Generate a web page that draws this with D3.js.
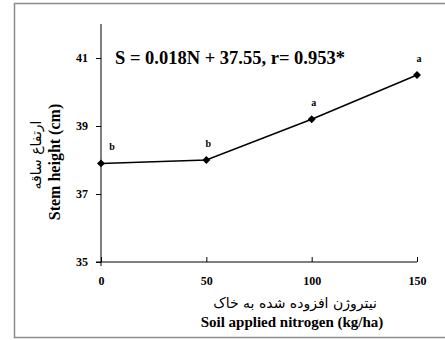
<!DOCTYPE html>
<html>
<head>
<meta charset="utf-8">
<script src="https://cdn.jsdelivr.net/npm/d3@7/dist/d3.min.js"></script>
<style>
  html, body { margin: 0; padding: 0; background: #fff; }
  svg { display: block; }
  .serif { font-family: "Times New Roman", "Liberation Serif", "DejaVu Serif", serif !important; }
  .fa { font-family: "DejaVu Sans", sans-serif; }
</style>
</head>
<body>
<svg id="chart" width="445" height="340"></svg>
<script>
// Nitrogen rate (kg/ha) and mean stem height (cm)
const nitrogen = [0, 50, 100, 150];
const stemHeight = [37.9, 38.0, 39.2, 40.5];
const groupLetters = ["b", "b", "a", "a"];
const yTicks = [35, 37, 39, 41];
const xTicks = [0, 50, 100, 150];
const equationText = "S = 0.018N + 37.55, r= 0.953*";
const xTitleFa = "نیتروژن افزوده شده به خاک";
const xTitleEn = "Soil applied nitrogen (kg/ha)";
const yTitleFa = "ارتفاع ساقه";
const yTitleEn = "Stem height (cm)";

const svg = d3.select("#chart");

// outer frame
svg.append("rect")
  .attr("x", 14.5).attr("y", 3.5)
  .attr("width", 445).attr("height", 334)
  .attr("fill", "none").attr("stroke", "#8c8c8c").attr("stroke-width", 1.5);

const x = d3.scaleLinear().domain([0, 150]).range([101, 417]);
const y = d3.scaleLinear().domain([35, 42]).range([262, 24]);

// y axis
const yAxis = svg.append("g")
  .attr("transform", `translate(${x(0)},0)`)
  .call(d3.axisLeft(y).tickValues(yTicks).tickSize(5).tickPadding(8).tickFormat(d3.format("d")));
yAxis.attr("font-family", null);
yAxis.select(".domain").attr("d", `M0,${y(42)}V${y(35) + 4}`).attr("stroke", "#000");
yAxis.selectAll("text").attr("class", "serif").attr("font-size", 12).attr("font-weight", "bold");

// x axis
const xAxis = svg.append("g")
  .attr("transform", `translate(0,${y(35)})`)
  .call(d3.axisBottom(x).tickValues(xTicks).tickSize(-5).tickPadding(14).tickFormat(d3.format("d")));
xAxis.attr("font-family", null);
xAxis.select(".domain").attr("d", `M${x(0) - 5},0H${x(150)}`).attr("stroke", "#000");
xAxis.selectAll("text").attr("class", "serif").attr("font-size", 12).attr("font-weight", "bold");

// data line
const line = d3.line().x((d, i) => x(nitrogen[i])).y(d => y(d));
svg.append("path")
  .datum(stemHeight)
  .attr("d", line)
  .attr("fill", "none").attr("stroke", "#000").attr("stroke-width", 1.5);

// diamond markers
svg.selectAll("path.marker")
  .data(stemHeight)
  .join("path")
  .attr("class", "marker")
  .attr("d", d3.symbol().type(d3.symbolDiamond2).size(40))
  .attr("transform", (d, i) => `translate(${x(nitrogen[i])},${y(d)})`)
  .attr("fill", "#000");

// mean-separation letters
svg.selectAll("text.letter")
  .data(stemHeight)
  .join("text")
  .attr("class", "letter serif")
  .attr("x", (d, i) => x(nitrogen[i]) + (i === 0 ? 11 : 2))
  .attr("y", d => y(d) - 13)
  .attr("text-anchor", "middle")
  .attr("font-size", 10).attr("font-weight", "bold")
  .text((d, i) => groupLetters[i]);

// regression equation
svg.append("text")
  .attr("class", "serif")
  .attr("x", 115).attr("y", 64)
  .attr("font-size", 18.5).attr("font-weight", "bold")
  .text(equationText);

// x titles
svg.append("text")
  .attr("class", "fa")
  .attr("x", 295).attr("y", 308)
  .attr("text-anchor", "middle")
  .attr("font-size", 14)
  .attr("direction", "rtl")
  .text(xTitleFa);
svg.append("text")
  .attr("class", "serif")
  .attr("x", 292).attr("y", 327)
  .attr("text-anchor", "middle")
  .attr("font-size", 15).attr("font-weight", "bold")
  .text(xTitleEn);

// y titles
svg.append("text")
  .attr("class", "fa")
  .attr("transform", "translate(41,155) rotate(-90)")
  .attr("text-anchor", "middle")
  .attr("font-size", 14)
  .attr("direction", "rtl")
  .text(yTitleFa);
svg.append("text")
  .attr("class", "serif")
  .attr("transform", "translate(60,162) rotate(-90)")
  .attr("text-anchor", "middle")
  .attr("font-size", 16).attr("font-weight", "bold")
  .text(yTitleEn);
</script>
</body>
</html>
